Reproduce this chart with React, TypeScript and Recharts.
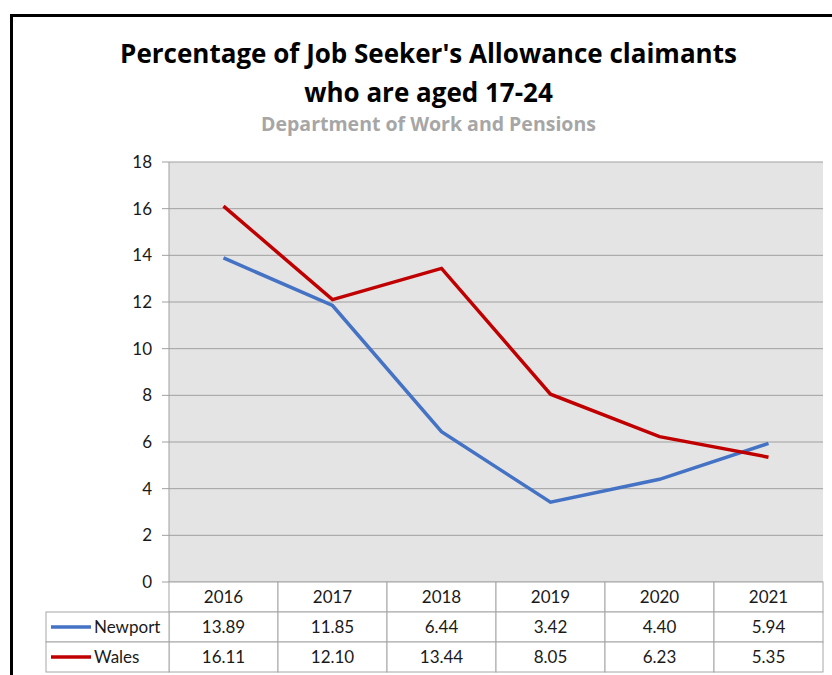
import React from 'react';
import { LineChart, Line, XAxis, YAxis, CartesianGrid } from 'recharts';

const CATEGORIES = ['2016', '2017', '2018', '2019', '2020', '2021'];
const NEWPORT = [13.89, 11.85, 6.44, 3.42, 4.4, 5.94];
const WALES = [16.11, 12.1, 13.44, 8.05, 6.23, 5.35];
const Y_TICKS = [0, 2, 4, 6, 8, 10, 12, 14, 16, 18];
const SERIES = [
  { key: 'Newport', name: 'Newport', values: NEWPORT, color: '#4472C4' },
  { key: 'Wales', name: 'Wales', values: WALES, color: '#C00000' },
];

const data = CATEGORIES.map((c, i) => ({ year: c, Newport: NEWPORT[i], Wales: WALES[i] }));

const FONT = 'Lato, "Open Sans", sans-serif';
const TITLE_FONT = '"Open Sans", Lato, sans-serif';
const TEXT = '#1a1a1a';
const BORDER = '#a6a6a6';
const PLOT_BOTTOM = 582;
const ROW_H = 30;
const COL_W = 109;
const LEGEND_LEFT = 46;
const PLOT_LEFT = 169;

const TableTick = (props: any) => {
  const { x, index, payload } = props;
  const left = x - COL_W / 2;
  const y0 = PLOT_BOTTOM;
  const rows = [String(payload.value), ...SERIES.map((s) => s.values[index].toFixed(2))];
  return (
    <g>
      {rows.map((t, r) => (
        <g key={r}>
          <rect x={left} y={y0 + r * ROW_H} width={COL_W} height={ROW_H} fill="#fff" stroke={BORDER} strokeWidth={1} />
          <text x={x} y={y0 + r * ROW_H + ROW_H / 2 + 1.5} textAnchor="middle" dominantBaseline="middle" fontSize={17} fill={TEXT} fontFamily={FONT}>
            {t}
          </text>
        </g>
      ))}
      {index === 0 &&
        SERIES.map((s, r) => {
          const yTop = y0 + (r + 1) * ROW_H;
          const cy = yTop + ROW_H / 2;
          return (
            <g key={s.key}>
              <rect x={LEGEND_LEFT} y={yTop} width={PLOT_LEFT - LEGEND_LEFT} height={ROW_H} fill="#fff" stroke={BORDER} strokeWidth={1} />
              <line x1={LEGEND_LEFT + 5} x2={LEGEND_LEFT + 45} y1={cy} y2={cy} stroke={s.color} strokeWidth={3.5} />
              <text x={LEGEND_LEFT + 48} y={cy + 1.5} dominantBaseline="middle" fontSize={17} fill={TEXT} fontFamily={FONT}>
                {s.name}
              </text>
            </g>
          );
        })}
    </g>
  );
};

export default function App() {
  return (
    <div style={{ position: 'absolute', left: 0, top: 0, width: 832, height: 675, overflow: 'hidden', background: '#fff' }}>
      <div style={{ position: 'absolute', left: 10, top: 14, width: 900, height: 800, border: '3px solid #000', boxSizing: 'border-box' }} />
      <div style={{ position: 'absolute', left: 0, top: 0 }}>
        <LineChart width={832} height={675} data={data} margin={{ top: 162, right: 9, bottom: 0, left: 0 }}>
          <CartesianGrid vertical={false} stroke="#a0a0a0" fill="#e4e4e4" horizontalValues={Y_TICKS} />
          <XAxis
            dataKey="year"
            height={93}
            axisLine={false}
            tickLine={false}
            interval={0}
            padding={{ left: COL_W / 2, right: COL_W / 2 }}
            tick={<TableTick />}
          />
          <YAxis
            width={169}
            domain={[0, 18]}
            ticks={Y_TICKS}
            interval={0}
            stroke="#a0a0a0"
            tickSize={7}
            tickMargin={10}
            tick={{ fontSize: 17, fill: TEXT, fontFamily: FONT }}
          />
          {SERIES.map((s) => (
            <Line key={s.key} type="linear" dataKey={s.key} stroke={s.color} strokeWidth={3.5} dot={false} isAnimationActive={false} />
          ))}
        </LineChart>
      </div>
      <div style={{ position: 'absolute', left: 0, top: 34, width: 857, textAlign: 'center', fontFamily: TITLE_FONT, fontWeight: 700, fontSize: 26, lineHeight: '39px', color: '#000' }}>
        Percentage of Job Seeker's Allowance claimants
        <br />
        who are aged 17-24
      </div>
      <div style={{ position: 'absolute', left: 0, top: 111, width: 857, textAlign: 'center', fontFamily: TITLE_FONT, fontWeight: 700, fontSize: 19.5, lineHeight: '26px', color: '#a6a6a6' }}>
        Department of Work and Pensions
      </div>
    </div>
  );
}
